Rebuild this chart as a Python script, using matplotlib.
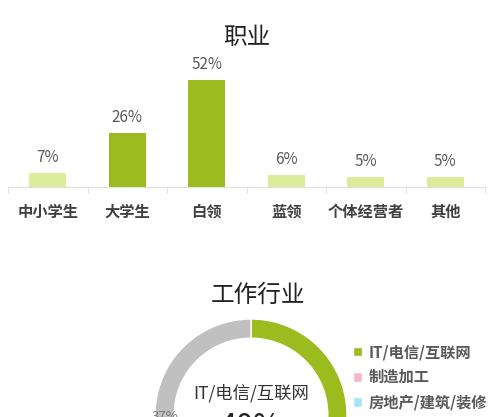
import matplotlib
matplotlib.use("Agg")
import matplotlib.pyplot as plt
import numpy as np

plt.rcParams['font.family'] = ['Noto Sans CJK SC', 'DejaVu Sans']

# occupation bar chart
jobs = ['中小学生', '大学生', '白领', '蓝领', '个体经营者', '其他']
job_pct = [7, 26, 52, 6, 5, 5]
job_dark = [False, True, True, False, False, False]

# industry donut (only the top half is visible in the picture)
industries = ['IT/电信/互联网', '制造加工', '房地产/建筑/装修', '其他']
industry_pct = [40, 13, 10, 37]

DARK = '#9bbb1f'
LIGHT = '#dcec9b'
ring_colors = [DARK, '#f4b8ca', '#a8e4f5', '#c0c0c0']

W, H = 500, 417
fig = plt.figure(figsize=(W / 100, H / 100), dpi=100)

# ---- bar chart ----
ax = fig.add_axes([8 / W, 1 - 187 / H, 477 / W, 123.6 / H])
x = np.arange(len(jobs))
colors = [DARK if d else LIGHT for d in job_dark]
ax.bar(x, job_pct, width=0.47, color=colors)
for xi, v in zip(x, job_pct):
    ax.annotate(f'{v}%', (xi, v), xytext=(0, 5), textcoords='offset points',
                ha='center', va='bottom', fontsize=11, color='#595959')
ax.set_xlim(-0.5, len(jobs) - 0.5)
ax.set_ylim(0, 60)
ax.set_yticks([])
ax.set_xticks(x)
ax.set_xticklabels(jobs, fontsize=11, fontweight='bold', color='#404040')
ax.set_xticks(np.arange(-0.5, len(jobs)), minor=True)
ax.tick_params(axis='x', which='major', length=0, pad=12)
ax.tick_params(axis='x', which='minor', length=4, color='#e3e3e3', width=0.8)
for s in ['top', 'left', 'right']:
    ax.spines[s].set_visible(False)
ax.spines['bottom'].set_color('#e0e0e0')
ax.spines['bottom'].set_linewidth(0.8)
ax.set_facecolor('none')

fig.text(247 / W, 1 - 38 / H, '职业', ha='center', va='center',
         fontsize=17, color='#222222')

# ---- donut ----
R = 96
cx, cy = 251, 415
ax2 = fig.add_axes([(cx - R) / W, (H - cy - R) / H, 2 * R / W, 2 * R / H])
wedges, _ = ax2.pie(industry_pct, colors=ring_colors, startangle=90,
                    counterclock=False, radius=1,
                    wedgeprops=dict(width=0.2, edgecolor='white', linewidth=1))
ax2.set_xlim(-1, 1)
ax2.set_ylim(-1, 1)
ax2.text(0, 0.23, industries[0], ha='center', va='center',
         fontsize=12.5, color='#333333')
ax2.text(0, -0.115, f'{industry_pct[0]}%', ha='center', va='center',
         fontsize=22, color='#222222')
ax2.text(-0.9, -0.02, f'{industry_pct[-1]}%', ha='center', va='center',
         fontsize=9.5, color='#7a7a7a')

fig.text(258 / W, 1 - 295 / H, '工作行业', ha='center', va='center',
         fontsize=17, color='#222222')

fig.legend(wedges, industries, loc='upper left',
           bbox_to_anchor=(353 / W, 1 - 344 / H), bbox_transform=fig.transFigure,
           frameon=False, borderpad=0, borderaxespad=0,
           handlelength=0.6, handleheight=0.6, handletextpad=0.4,
           labelspacing=0.6, labelcolor='#595959',
           prop=dict(size=11, weight='bold'))

fig.savefig('out.png', dpi=100, facecolor='white')
